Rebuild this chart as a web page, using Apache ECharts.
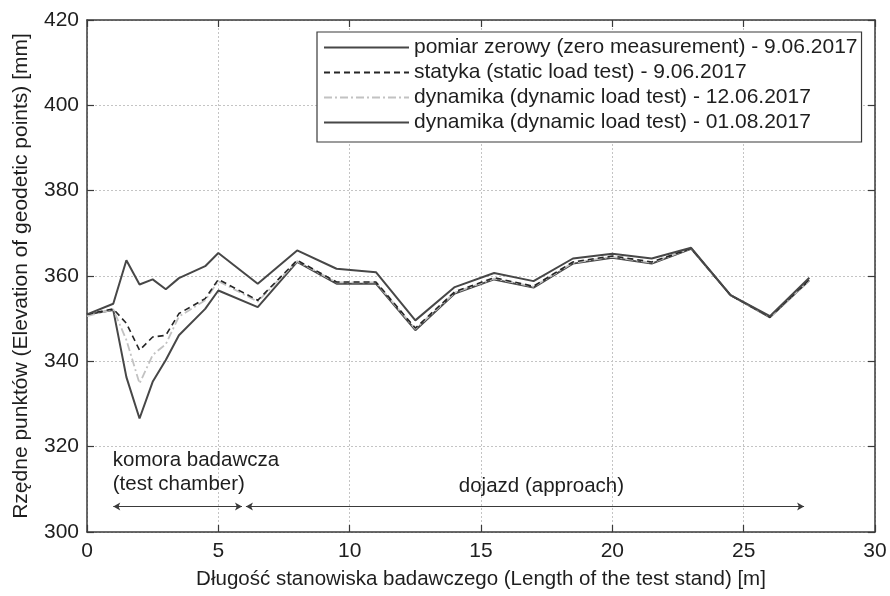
<!DOCTYPE html>
<html>
<head>
<meta charset="utf-8">
<title>Rzędne punktów</title>
<script src="https://cdn.jsdelivr.net/npm/echarts@6/dist/echarts.min.js"></script>
<style>
  html, body { margin: 0; padding: 0; background: #ffffff; }
  #chart { width: 890px; height: 596px; }
</style>
</head>
<body>
<div id="chart"></div>
<script>
// Station positions along the stand [m]
const positions = [0, 1, 1.5, 2, 2.5, 3, 3.5, 4.5, 5, 6.5, 8, 9.5, 11, 12.5, 14, 15.5, 17, 18.5, 20, 21.5, 23, 24.5, 26, 27.5];

// Elevations of geodetic points [mm]
const zeroMeasurement = [351.0, 353.5, 363.7, 358.0, 359.2, 356.9, 359.5, 362.3, 365.4, 358.2, 366.0, 361.7, 360.9, 349.6, 357.4, 360.7, 358.8, 364.1, 365.2, 364.1, 366.6, 355.5, 350.6, 359.6];
const staticTest = [351.0, 352.3, 348.9, 342.6, 345.7, 346.1, 351.2, 354.7, 359.2, 354.3, 363.7, 358.6, 358.6, 347.8, 356.3, 359.6, 357.6, 363.3, 364.7, 363.3, 366.5, 355.5, 350.4, 359.2];
const dynamicJune = [350.6, 352.2, 345.0, 334.8, 341.5, 344.0, 350.5, 354.3, 358.8, 354.0, 363.5, 358.5, 358.5, 347.6, 356.1, 359.4, 357.5, 363.1, 364.5, 363.1, 366.5, 355.5, 350.4, 359.0];
const dynamicAugust = [351.0, 352.0, 336.3, 326.6, 335.2, 340.3, 346.1, 352.3, 356.6, 352.7, 363.3, 358.2, 358.2, 347.3, 355.9, 359.2, 357.3, 362.9, 364.3, 362.9, 366.4, 355.5, 350.3, 359.0];

const seriesNames = [
  'pomiar zerowy (zero measurement) - 9.06.2017',
  'statyka (static load test) - 9.06.2017',
  'dynamika (dynamic load test) - 12.06.2017',
  'dynamika (dynamic load test) - 01.08.2017'
];

// Section extents along the stand [m] and their labels
const chamberRange = [1, 5.9];
const approachRange = [6.05, 27.3];
const arrowLevel = 306;
const chamberLabel = 'komora badawcza\n(test chamber)';
const chamberLabelAt = [0.98, 313.9];
const approachLabel = 'dojazd (approach)';
const approachLabelAt = [17.3, 310.6];

const xTicks = { min: 0, max: 30, interval: 5 };
const yTicks = { min: 300, max: 420, interval: 20 };

const FONT = "'Liberation Sans', Arial, sans-serif";
const INK = '#1e1e1e';
const FS = 21;

function pairs(values) {
  return positions.map((x, i) => [x, values[i]]);
}

function lineSeries(name, values, style, extra) {
  return Object.assign({
    name: name,
    type: 'line',
    data: pairs(values),
    symbol: 'circle',
    symbolSize: 0,
    showSymbol: false,
    xAxisIndex: 0,
    yAxisIndex: 0,
    lineStyle: style,
    itemStyle: { color: style.color },
    emphasis: { disabled: true },
    animation: false
  }, extra || {});
}

const chart = echarts.init(document.getElementById('chart'), null, { renderer: 'canvas' });

const axisCommon = {
  axisLine: { show: true, onZero: false, lineStyle: { color: '#3a3a3a', width: 1.5 } },
  axisTick: { show: true, inside: true, length: 7, lineStyle: { color: '#3a3a3a', width: 1.2 } }
};
const gridLine = { show: true, lineStyle: { color: '#c4c4c4', type: [2, 2], width: 1 } };

const option = {
  backgroundColor: '#ffffff',
  animation: false,
  textStyle: { fontFamily: FONT },
  grid: { left: 87, top: 20, right: 15, bottom: 64, containLabel: false },
  legend: {
    show: true,
    orient: 'vertical',
    left: 317,
    top: 32,
    data: seriesNames,
    itemWidth: 85,
    itemHeight: 14,
    itemGap: 4,
    padding: [5, 4, 9, 6],
    backgroundColor: '#ffffff',
    borderColor: '#3a3a3a',
    borderWidth: 1.2,
    borderRadius: 0,
    selectedMode: false,
    itemStyle: { opacity: 0 },
    textStyle: { fontFamily: FONT, fontSize: FS, color: INK, lineHeight: 21 }
  },
  xAxis: [
    Object.assign({
      type: 'value',
      position: 'bottom',
      min: xTicks.min, max: xTicks.max, interval: xTicks.interval,
      name: 'Długość stanowiska badawczego (Length of the test stand) [m]',
      nameLocation: 'middle',
      nameGap: 37,
      nameTextStyle: { fontFamily: FONT, fontSize: 20.5, color: INK },
      axisLabel: { fontFamily: FONT, fontSize: FS, color: INK, margin: 9 },
      splitLine: gridLine
    }, axisCommon),
    Object.assign({
      type: 'value',
      position: 'top',
      min: xTicks.min, max: xTicks.max, interval: xTicks.interval,
      axisLabel: { show: false },
      splitLine: { show: false }
    }, axisCommon)
  ],
  yAxis: [
    Object.assign({
      type: 'value',
      position: 'left',
      min: yTicks.min, max: yTicks.max, interval: yTicks.interval,
      name: 'Rzędne punktów (Elevation of geodetic points) [mm]',
      nameLocation: 'middle',
      nameGap: 55,
      nameTextStyle: { fontFamily: FONT, fontSize: FS, color: INK },
      axisLabel: { fontFamily: FONT, fontSize: FS, color: INK, margin: 8 },
      splitLine: gridLine
    }, axisCommon),
    Object.assign({
      type: 'value',
      position: 'right',
      min: yTicks.min, max: yTicks.max, interval: yTicks.interval,
      axisLabel: { show: false },
      splitLine: { show: false }
    }, axisCommon)
  ],
  series: [
    lineSeries(seriesNames[3], dynamicAugust, { color: '#474747', width: 2, type: 'solid' }),
    lineSeries(seriesNames[2], dynamicJune, { color: '#c2c2c2', width: 1.8, type: [8, 3, 2, 3] }),
    lineSeries(seriesNames[1], staticTest, { color: '#262626', width: 1.6, type: [6, 4] }),
    lineSeries(seriesNames[0], zeroMeasurement, { color: '#474747', width: 2, type: 'solid' }, {
      markLine: {
        silent: true,
        symbol: ['arrow', 'arrow'],
        symbolSize: [6, 7],
        label: { show: false },
        lineStyle: { color: '#3a3a3a', width: 1, type: 'solid' },
        data: [
          [{ coord: [chamberRange[0], arrowLevel] }, { coord: [chamberRange[1], arrowLevel] }],
          [{ coord: [approachRange[0], arrowLevel] }, { coord: [approachRange[1], arrowLevel] }]
        ]
      },
      markPoint: {
        silent: true,
        symbol: 'circle',
        symbolSize: 0,
        data: [
          {
            coord: chamberLabelAt,
            label: {
              show: true, position: 'right', distance: 0, formatter: chamberLabel,
              fontFamily: FONT, fontSize: 20.5, color: INK, lineHeight: 24, align: 'left'
            }
          },
          {
            coord: approachLabelAt,
            label: {
              show: true, position: 'inside', formatter: approachLabel,
              fontFamily: FONT, fontSize: 20.5, color: INK, align: 'center'
            }
          }
        ]
      }
    })
  ]
};

chart.setOption(option);
</script>
</body>
</html>
